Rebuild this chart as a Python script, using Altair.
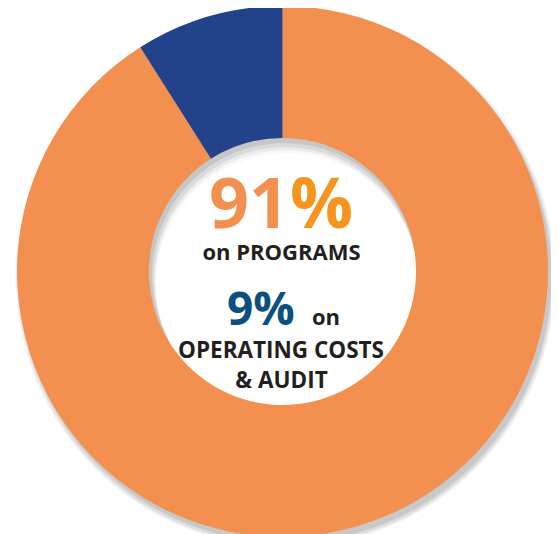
import math
import altair as alt
import pandas as pd

# ---- data ----
categories = ["Programs", "Operating costs & audit"]
shares = [91, 9]
slice_colors = ["#F4904F", "#22428A"]

big_pct = ["91", "%"]
line_programs = ["on PROGRAMS"]
small_pct = ["9%"]
small_on = ["on"]
line_costs = ["OPERATING COSTS", "& AUDIT"]

# ---- geometry (chart coordinates) ----
W, H = 543, 526
CX, CY = 274.5, 263.5
R_OUT, R_IN = 265.5, 133.5
FONT = "Open Sans"
DARK = "#231F20"

donut_df = pd.DataFrame({"category": categories, "share": shares, "order": [0, 1]})


def disk(r, dx, dy, color, opacity=1.0):
    return alt.Chart(pd.DataFrame({"v": [1]})).mark_arc(
        theta=0, theta2=2 * math.pi, outerRadius=r, color=color,
        opacity=opacity, stroke=None
    ).encode(x=alt.value(CX + dx), y=alt.value(CY + dy))


# outer drop shadow
shadow = [
    disk(R_OUT + 4, 3, 6, "#EEEEEE"),
    disk(R_OUT + 2, 3, 6, "#DCDCDC"),
    disk(R_OUT + 0.5, 3, 5, "#C8C8C8"),
]

# inner hole with inner shadow
hole = [
    disk(R_IN, 0, 0, "#C6C6C6"),
    disk(R_IN - 1, 2, 4, "#FFFFFF", 0.35),
    disk(R_IN - 2, 3, 7, "#FFFFFF", 0.45),
    disk(R_IN - 2, 4, 10, "#FFFFFF", 0.7),
    disk(R_IN - 2, 5, 13, "#FFFFFF", 1.0),
]

ring = alt.Chart(donut_df).mark_arc(
    outerRadius=R_OUT, innerRadius=R_IN, stroke=None
).encode(
    theta=alt.Theta("share:Q", stack=True),
    order=alt.Order("order:Q"),
    color=alt.Color("category:N", scale=alt.Scale(domain=categories, range=slice_colors), legend=None),
    x=alt.value(CX),
    y=alt.value(CY),
)


def text(s, x, y, size, color, align="center"):
    return alt.Chart(pd.DataFrame({"t": [s]})).mark_text(
        font=FONT, fontWeight="bold", fontSize=size, color=color,
        align=align, baseline="alphabetic"
    ).encode(text="t:N", x=alt.value(x), y=alt.value(y))


texts = [
    text(big_pct[0], 281, 220, 70, "#F4904F", "right"),
    text(big_pct[1], 282, 220, 70, "#F7941D", "left"),
    text(line_programs[0], 273.5, 252, 22, DARK),
    text(small_pct[0], 219, 317, 46, "#0B4F80", "left"),
    text(small_on[0], 304, 317, 22, DARK, "left"),
    text(line_costs[0], 273, 350, 22.5, DARK),
    text(line_costs[1], 273.5, 380, 22.5, DARK),
]

chart = alt.layer(*shadow, *hole, ring, *texts).properties(
    width=W, height=H, padding=0, autosize=alt.AutoSizeParams(type="none"),
    background="white"
).configure_view(stroke=None)

chart.save("out.html", embed_options={"renderer": "svg", "actions": False})
